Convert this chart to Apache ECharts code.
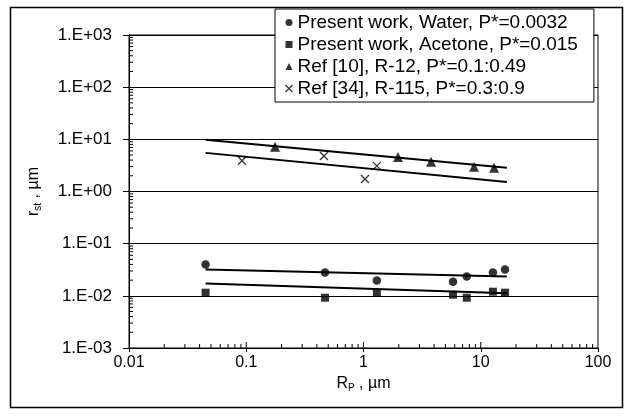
<!DOCTYPE html>
<html>
<head>
<meta charset="utf-8">
<script src="https://cdn.jsdelivr.net/npm/echarts@6/dist/echarts.min.js"></script>
<style>
  html, body { margin: 0; padding: 0; background: #fff; }
  #chart { width: 629px; height: 417px; }
</style>
</head>
<body>
<div id="chart"></div>
<script>
// Critical bubble radius r_st versus pore radius R_P (log-log)
const xTickLabels = ['0.01', '0.1', '1', '10', '100'];

const waterX = [0.045, 0.47, 1.3, 5.8, 7.6, 12.7, 16.1];
const waterY = [0.040, 0.028, 0.0196, 0.0187, 0.0234, 0.028, 0.032];

const acetoneX = [0.045, 0.47, 1.3, 5.8, 7.6, 12.7, 16.1];
const acetoneY = [0.0115, 0.0092, 0.0115, 0.0105, 0.0092, 0.012, 0.0115];

const r12X = [0.176, 1.97, 3.77, 8.76, 13.0];
const r12Y = [7.2, 4.6, 3.7, 2.97, 2.84];

const r115X = [0.092, 0.46, 1.03, 1.30];
const r115Y = [3.9, 4.8, 1.74, 3.1];

// Power-law trend lines (end points)
const fitX = [0.045, 16.7];
const fitUpperY = [9.86, 2.84];
const fitLowerY = [5.5, 1.52];
const fitWaterY = [0.032, 0.0234];
const fitAcetoneY = [0.0172, 0.0112];

const seriesNames = [
  'Present work, Water, P*=0.0032',
  'Present work, Acetone, P*=0.015',
  'Ref [10], R-12, P*=0.1:0.49',
  'Ref [34], R-115, P*=0.3:0.9'
];

const X_MIN = 0.01, X_MAX = 100, Y_MIN = 0.001, Y_MAX = 1000;

function pairs(xs, ys) { return xs.map((x, i) => [x, ys[i]]); }

// minor tick positions 2..9 within each decade
function minorTicks(lo, hi) {
  const out = [];
  for (let d = lo; d < hi - 1e-12; d *= 10) {
    for (let m = 2; m <= 9; m++) out.push(+(d * m).toPrecision(6));
  }
  return out;
}
const xMinor = minorTicks(X_MIN, X_MAX);
const yMinor = minorTicks(Y_MIN, Y_MAX);

function yLabel(v) {
  const e = Math.round(Math.log10(v));
  const s = e < 0 ? '-' : '+';
  const a = Math.abs(e);
  return '1.E' + s + (a < 10 ? '0' + a : a);
}
function xLabel(v) {
  const i = Math.round(Math.log10(v / X_MIN));
  return xTickLabels[i] !== undefined ? xTickLabels[i] : '';
}

const FONT = 'Liberation Sans, Arial, sans-serif';
const crossPath = 'path://M0,0L10,10M10,0L0,10';

const chart = echarts.init(document.getElementById('chart'), null, { renderer: 'canvas' });

const lineStyleFit = { color: '#000', width: 2 };
const richName = {
  a: { fontSize: 16, fontFamily: FONT, color: '#000', lineHeight: 18 },
  b: { fontSize: 10, fontFamily: FONT, color: '#000', lineHeight: 18, verticalAlign: 'bottom', padding: [7, 0, 0, 0] }
};

chart.setOption({
  backgroundColor: '#fff',
  animation: false,
  textStyle: { fontFamily: FONT, color: '#000' },
  graphic: [{
    type: 'rect',
    left: 8, top: 5,
    shape: { width: 612, height: 400 },
    style: { fill: 'none', stroke: '#000', lineWidth: 1.5 },
    silent: true
  }],
  grid: {
    left: 129, right: 31, top: 35, bottom: 69,
    show: true, borderColor: '#000', borderWidth: 1, backgroundColor: '#fff'
  },
  legend: {
    orient: 'vertical',
    left: 275, top: 9,
    padding: [4, 16, 4, 8],
    itemGap: 3,
    itemWidth: 7, itemHeight: 7,
    backgroundColor: '#fff',
    borderColor: '#000', borderWidth: 1,
    textStyle: { fontFamily: FONT, fontSize: 19, color: '#000', lineHeight: 19 },
    data: [
      { name: seriesNames[0], icon: 'circle' },
      { name: seriesNames[1], icon: 'rect' },
      { name: seriesNames[2], icon: 'triangle' },
      { name: seriesNames[3], icon: crossPath, itemStyle: { color: 'none', borderColor: '#000', borderWidth: 1.2 } }
    ]
  },
  xAxis: {
    type: 'log', logBase: 10, min: X_MIN, max: X_MAX,
    axisLine: { lineStyle: { color: '#000', width: 1 } },
    axisTick: { show: true, inside: false, length: 4, lineStyle: { color: '#000' } },
    axisLabel: { formatter: xLabel, fontSize: 16, color: '#000', margin: 7, fontFamily: FONT },
    splitLine: { show: false },
    name: '{a|R}{b|P}{a| , µm}',
    nameLocation: 'middle', nameGap: 18,
    nameTextStyle: { rich: richName }
  },
  yAxis: {
    type: 'log', logBase: 10, min: Y_MIN, max: Y_MAX,
    axisLine: { lineStyle: { color: '#000', width: 1 } },
    axisTick: { show: true, inside: false, length: 6, lineStyle: { color: '#000' } },
    axisLabel: { formatter: yLabel, fontSize: 17, color: '#000', margin: 17, fontFamily: FONT },
    splitLine: { show: true, lineStyle: { color: '#000', width: 1 } },
    name: '{a|r}{b|st}{a| , µm}',
    nameLocation: 'middle', nameGap: 86,
    nameTextStyle: { rich: richName }
  },
  series: [
    // trend lines
    { type: 'line', data: pairs(fitX, fitUpperY), symbol: 'none', lineStyle: lineStyleFit, z: 3, silent: true },
    { type: 'line', data: pairs(fitX, fitLowerY), symbol: 'none', lineStyle: lineStyleFit, z: 3, silent: true },
    { type: 'line', data: pairs(fitX, fitWaterY), symbol: 'none', lineStyle: lineStyleFit, z: 3, silent: true },
    { type: 'line', data: pairs(fitX, fitAcetoneY), symbol: 'none', lineStyle: lineStyleFit, z: 3, silent: true },
    // measured points
    { name: seriesNames[0], type: 'scatter', data: pairs(waterX, waterY), symbol: 'circle', symbolSize: 8.5,
      itemStyle: { color: '#000' }, z: 4 },
    { name: seriesNames[1], type: 'scatter', data: pairs(acetoneX, acetoneY), symbol: 'rect', symbolSize: 8,
      itemStyle: { color: '#000' }, z: 4 },
    { name: seriesNames[2], type: 'scatter', data: pairs(r12X, r12Y), symbol: 'triangle', symbolSize: 10,
      itemStyle: { color: '#000' }, z: 4 },
    { name: seriesNames[3], type: 'scatter', data: pairs(r115X, r115Y), symbol: crossPath, symbolSize: 8,
      itemStyle: { color: 'none', borderColor: '#000', borderWidth: 1.3 }, z: 4 },
    // minor and inner major ticks on the x axis
    { type: 'custom', silent: true, z: 5,
      data: xMinor.map(v => [v]).concat([0.1, 1, 10].map(v => [v, 1])),
      renderItem: function (params, api) {
        const p = api.coord([api.value(0), Y_MIN]);
        const len = api.value(1) ? 6 : 4;
        return { type: 'line', shape: { x1: p[0], y1: p[1], x2: p[0], y2: p[1] - len },
                 style: { stroke: '#000', lineWidth: 1 } };
      } },
    // minor ticks on the y axis
    { type: 'custom', silent: true, z: 5,
      data: yMinor.map(v => [v]),
      renderItem: function (params, api) {
        const p = api.coord([X_MIN, api.value(0)]);
        return { type: 'line', shape: { x1: p[0], y1: p[1], x2: p[0] + 4, y2: p[1] },
                 style: { stroke: '#000', lineWidth: 1 } };
      } }
  ]
});
</script>
</body>
</html>
